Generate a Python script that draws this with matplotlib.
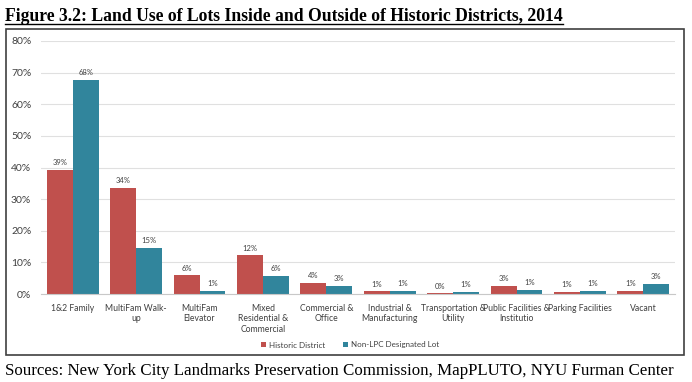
import numpy as np
import matplotlib.pyplot as plt
from matplotlib.patches import Rectangle
from matplotlib.lines import Line2D

categories = ["1&2 Family", "MultiFam Walk-\nup", "MultiFam\nElevator",
              "Mixed\nResidential &\nCommercial", "Commercial &\nOffice",
              "Industrial &\nManufacturing", "Transportation &\nUtility",
              "Public Facilities &\nInstitutio", "Parking Facilities", "Vacant"]
historic = [39.3, 33.6, 5.9, 12.2, 3.6, 0.8, 0.2, 2.6, 0.6, 1.0]
non_lpc = [67.6, 14.7, 1.1, 5.7, 2.6, 1.0, 0.7, 1.2, 1.1, 3.3]
yticks = [0, 10, 20, 30, 40, 50, 60, 70, 80]

red = "#C0504D"
teal = "#31859C"
sans = ["Lato", "DejaVu Sans"]
serif = ["Liberation Serif", "DejaVu Serif"]

fig = plt.figure(figsize=(6.92, 3.82), dpi=100)
ax = fig.add_axes([41/692, 1-294/382, (675-41)/692, (294-41)/382])

x = np.arange(len(categories))
w = 0.41
b1 = ax.bar(x - w/2, historic, w, color=red, label="Historic District")
b2 = ax.bar(x + w/2, non_lpc, w, color=teal, label="Non-LPC Designated Lot")

for bars, vals in [(b1, historic), (b2, non_lpc)]:
    for r, v in zip(bars, vals):
        ax.text(r.get_x() + r.get_width()/2, v + 1.2, f"{v:.0f}%", ha="center",
                va="bottom", fontsize=5.5, color="#404040", family=sans)

ax.set_xlim(-0.5, len(categories) - 0.5)
ax.set_ylim(0, 80)
ax.set_yticks(yticks)
ax.set_yticklabels([f"{t}%" for t in yticks], fontsize=7.5, color="#404040", family=sans)
ax.set_xticks(x)
ax.set_xticklabels(categories, fontsize=6.2, color="#404040", family=sans, linespacing=1.25)
ax.tick_params(length=0, pad=7)
ax.yaxis.grid(True, color="#E0E0E0", lw=0.8)
ax.set_axisbelow(True)
for s in ["top", "right", "left"]:
    ax.spines[s].set_visible(False)
ax.spines["bottom"].set_color("#C8C8C8")

leg = fig.legend(loc="center", bbox_to_anchor=(350/692, 1-345/382), ncol=2, frameon=False,
                 prop={"family": sans, "size": 5.8}, handlelength=0.6, handleheight=0.6,
                 columnspacing=2.2, handletextpad=0.4)
for t in leg.get_texts():
    t.set_color("#404040")

# outer frame
fig.patches.append(Rectangle((6/692, 1-355/382), (684-6)/692, (355-29)/382,
                             transform=fig.transFigure, fill=False, ec="#404040", lw=1.2))

title = fig.text(5/692, 1-21/382, "Figure 3.2: Land Use of Lots Inside and Outside of Historic Districts, 2014",
                 fontsize=12.7, fontweight="bold", family=serif, ha="left", va="baseline")
fig.canvas.draw()
bb = title.get_window_extent(fig.canvas.get_renderer()).transformed(fig.transFigure.inverted())
fig.lines.append(Line2D([bb.x0, bb.x1], [1-24/382, 1-24/382], transform=fig.transFigure,
                        color="black", lw=1.0))

fig.text(5/692, 1-375/382, "Sources: New York City Landmarks Preservation Commission, MapPLUTO, NYU Furman Center",
         fontsize=12.2, family=serif, ha="left", va="baseline")

fig.savefig("out.png", dpi=100)
